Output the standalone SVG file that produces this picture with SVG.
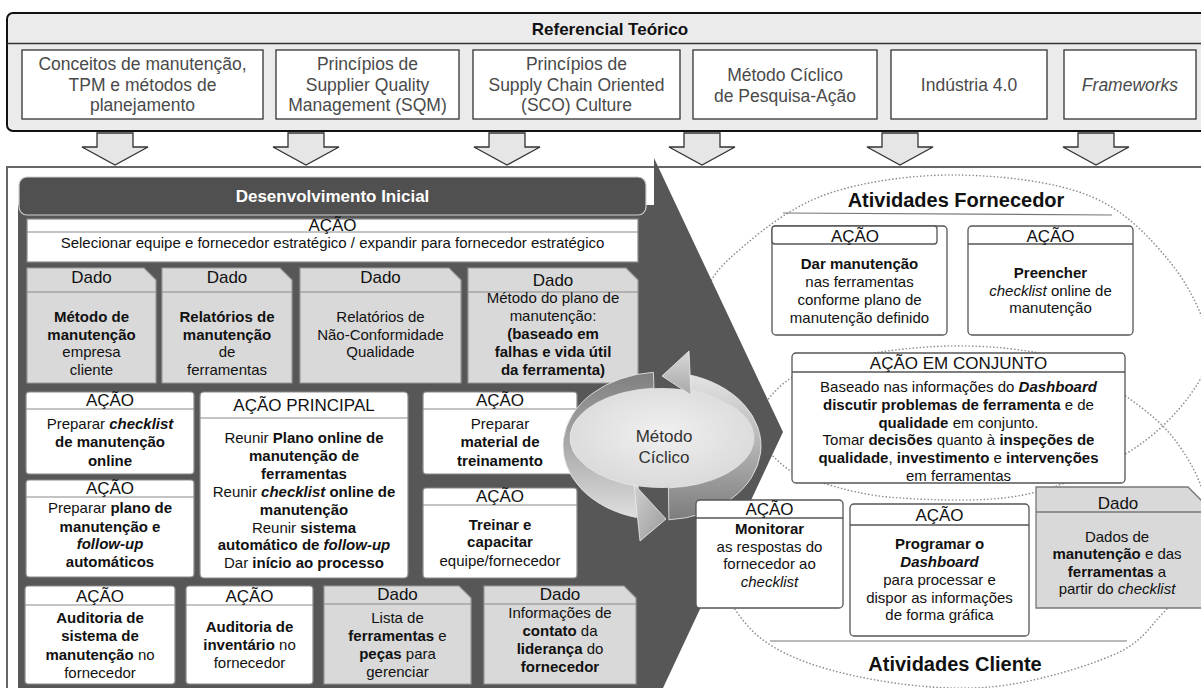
<svg xmlns="http://www.w3.org/2000/svg" width="1201" height="688" viewBox="0 0 1201 688">
<defs>
<style>
text{font-family:"Liberation Sans",Arial,Helvetica,sans-serif;text-anchor:middle;fill:#111;font-size:15px}
.hd{font-size:17px}
.tp{font-size:17.5px;fill:#4a4a4a}
.b{font-weight:bold}
.i{font-style:italic}
.bi{font-weight:bold;font-style:italic}
.wh{fill:#fff}
.wb{fill:#fff;stroke:#8a8a8a;stroke-width:1.2}
.hl{stroke:#8a8a8a;stroke-width:1.2;fill:none}
.db{fill:#d9d9d9;stroke:#9a9a9a;stroke-width:1.2}
.rb{fill:#fff;stroke:#555;stroke-width:1.3}
.rl{stroke:#555;stroke-width:1.3;fill:none}
.rd{fill:#d9d9d9;stroke:#777;stroke-width:1.3}
.tb{fill:#fff;stroke:#333;stroke-width:1.3}
.dot{fill:none;stroke:#8c8c8c;stroke-width:1.6;stroke-dasharray:0.1 3.4;stroke-linecap:round}
.arr{fill:#e6e6e6;stroke:#333;stroke-width:1.3}
</style>
<path id="dn" d="M-18,0 H18 V14 H33 L0,32 L-33,14 H-18 Z"/>
<linearGradient id="gUp" x1="0" y1="0" x2="0" y2="1">
<stop offset="0" stop-color="#e4e4e4"/><stop offset="0.45" stop-color="#b8b8b8"/><stop offset="1" stop-color="#7c7c7c"/>
</linearGradient>
<linearGradient id="gLo" x1="0" y1="0" x2="0" y2="1">
<stop offset="0" stop-color="#7f7f7f"/><stop offset="0.5" stop-color="#a9a9a9"/><stop offset="1" stop-color="#dedede"/>
</linearGradient>
<linearGradient id="gHead1" x1="0" y1="0" x2="0" y2="1">
<stop offset="0" stop-color="#d8d8d8"/><stop offset="1" stop-color="#a8a8a8"/>
</linearGradient>
<linearGradient id="gHead2" x1="0" y1="0" x2="1" y2="1">
<stop offset="0" stop-color="#d0d0d0"/><stop offset="1" stop-color="#9a9a9a"/>
</linearGradient>
<radialGradient id="gIn" cx="0.5" cy="0.45" r="0.6">
<stop offset="0" stop-color="#f0f0f0"/><stop offset="1" stop-color="#d8d8d8"/>
</radialGradient>
</defs>

<!-- Referencial teórico -->
<g id="referencial">
<rect x="7" y="13" width="1205" height="118" rx="6" fill="#ebebeb" stroke="#111" stroke-width="2"/>
<line x1="7" y1="43.5" x2="1201" y2="43.5" stroke="#333" stroke-width="1.5"/>
<text x="610" y="35" class="hd b">Referencial Teórico</text>
</g>
<g id="ref-conceitos">
<rect x="22" y="50" width="241" height="69" class="tb"/>
<text x="142.5" y="70" class="tp">Conceitos de manutenção,</text>
<text x="142.5" y="91" class="tp">TPM e métodos de</text>
<text x="142.5" y="111" class="tp">planejamento</text>
</g>
<g id="ref-sqm">
<rect x="276" y="50" width="183" height="69" class="tb"/>
<text x="367.5" y="70" class="tp">Princípios de</text>
<text x="367.5" y="91" class="tp">Supplier Quality</text>
<text x="367.5" y="111" class="tp">Management (SQM)</text>
</g>
<g id="ref-sco">
<rect x="473" y="50" width="207" height="69" class="tb"/>
<text x="576.5" y="70" class="tp">Princípios de</text>
<text x="576.5" y="91" class="tp">Supply Chain Oriented</text>
<text x="576.5" y="111" class="tp">(SCO) Culture</text>
</g>
<g id="ref-ciclico">
<rect x="693" y="50" width="184" height="69" class="tb"/>
<text x="785" y="81" class="tp">Método Cíclico</text>
<text x="785" y="102" class="tp">de Pesquisa-Ação</text>
</g>
<g id="ref-industria">
<rect x="891" y="50" width="156" height="69" class="tb"/>
<text x="969" y="91" class="tp">Indústria 4.0</text>
</g>
<g id="ref-frameworks">
<rect x="1064" y="50" width="132" height="69" class="tb"/>
<text x="1130" y="91" class="tp i">Frameworks</text>
</g>

<!-- connectors: down arrows -->
<g id="connectors">
<use href="#dn" x="115" y="133" class="arr"/>
<use href="#dn" x="306" y="133" class="arr"/>
<use href="#dn" x="507" y="133" class="arr"/>
<use href="#dn" x="702" y="133" class="arr"/>
<use href="#dn" x="900" y="133" class="arr"/>
<use href="#dn" x="1096" y="133" class="arr"/>
</g>

<!-- main panel -->
<g id="panel">
<rect x="7" y="167" width="1210" height="535" fill="#fff" stroke="#666" stroke-width="2"/>
</g>

<!-- dotted activity areas -->
<g id="area-fornecedor">
<path class="dot" d="M705,300 C708.3,275.8 724.2,262.8 745,245 C765.8,227.2 794.7,204.7 830,193 C865.3,181.3 913.7,174.5 957,175 C1000.3,175.5 1054.5,181.5 1090,196 C1125.5,210.5 1150.3,238 1170,262 C1189.7,286 1204.7,317.8 1208,340 C1211.3,362.2 1203.5,376.2 1190,395 C1176.5,413.8 1154.8,436.3 1127,453 C1099.2,469.7 1060.8,487.5 1023,495 C985.2,502.5 933.3,500 900,498 C866.7,496 843.5,489.3 823,483 C802.5,476.7 793.3,475.5 777,460 C760.7,444.5 737,416.7 725,390 C713,363.3 701.7,324.2 705,300 Z"/>
<line x1="783" y1="213" x2="1112" y2="215" stroke="#777" stroke-width="1.2"/>
<text x="956" y="207" class="b" style="font-size:20px">Atividades Fornecedor</text>
</g>
<g id="area-cliente">
<path class="dot" d="M740,470 C748.7,449.5 755,415 770,397 C785,379 800,370.5 830,362 C860,353.5 911.7,346.7 950,346 C988.3,345.3 1030.5,349.5 1060,358 C1089.5,366.5 1107.8,383.3 1127,397 C1146.2,410.7 1162,422.8 1175,440 C1188,457.2 1200.8,479.2 1205,500 C1209.2,520.8 1207,546.2 1200,565 C1193,583.8 1177.5,598 1163,613 C1148.5,628 1141.8,642.7 1113,655 C1084.2,667.3 1032.2,683.3 990,687 C947.8,690.7 897.8,684.8 860,677 C822.2,669.2 787.2,657.8 763,640 C738.8,622.2 722.5,590 715,570 C707.5,550 713.8,536.7 718,520 C722.2,503.3 731.3,490.5 740,470 Z"/>
<line x1="770" y1="641" x2="1127" y2="641" stroke="#777" stroke-width="1.2"/>
<text x="955" y="671" class="b" style="font-size:20px">Atividades Cliente</text>
</g>

<!-- dark initial development area -->
<g id="desenvolvimento-inicial">
<path d="M18,205 H654 V158 L783,432 L663,688 H18 Z" fill="#575757"/>
<rect x="19" y="177" width="627" height="38" rx="8" fill="#505050" stroke="#d0d0d0" stroke-width="1.2"/>
<text x="332.5" y="202" class="hd b wh" style="fill:#fff">Desenvolvimento Inicial</text>
</g>

<g id="acao-selecionar">
<rect x="27" y="219" width="611" height="43" class="wb"/>
<line x1="27" y1="232" x2="638" y2="232" class="hl"/>
<text x="332.5" y="231" class="hd">AÇÃO</text>
<text x="332.5" y="248">Selecionar equipe e fornecedor estratégico / expandir para fornecedor estratégico</text>
</g>

<g id="dado-metodo">
<path d="M27,268 H144 L156,280 V383 H27 Z" class="db"/>
<line x1="27" y1="292" x2="156" y2="292" class="hl"/>
<text x="91.5" y="283" class="hd">Dado</text>
<text x="91.5" y="322" class="b">Método de</text>
<text x="91.5" y="340" class="b">manutenção</text>
<text x="91.5" y="357">empresa</text>
<text x="91.5" y="375">cliente</text>
</g>
<g id="dado-relatorios">
<path d="M162,268 H280 L292,280 V383 H162 Z" class="db"/>
<line x1="162" y1="292" x2="292" y2="292" class="hl"/>
<text x="227" y="283" class="hd">Dado</text>
<text x="227" y="322" class="b">Relatórios de</text>
<text x="227" y="340" class="b">manutenção</text>
<text x="227" y="357">de</text>
<text x="227" y="375">ferramentas</text>
</g>
<g id="dado-nao-conformidade">
<path d="M300,268 H449 L461,280 V383 H300 Z" class="db"/>
<line x1="300" y1="292" x2="461" y2="292" class="hl"/>
<text x="380.5" y="283" class="hd">Dado</text>
<text x="380.5" y="322">Relatórios de</text>
<text x="380.5" y="340">Não-Conformidade</text>
<text x="380.5" y="357">Qualidade</text>
</g>
<g id="dado-plano">
<path d="M468,268 H626 L638,280 V383 H468 Z" class="db"/>
<line x1="468" y1="292" x2="638" y2="292" class="hl"/>
<text x="553" y="286" class="hd">Dado</text>
<text x="553" y="303">Método do plano de</text>
<text x="553" y="321">manutenção:</text>
<text x="553" y="339" class="b">(baseado em</text>
<text x="553" y="357" class="b">falhas e vida útil</text>
<text x="553" y="375" class="b">da ferramenta)</text>
</g>

<g id="acao-checklist">
<rect x="26" y="392" width="168" height="82" rx="3" class="wb"/>
<line x1="26" y1="409" x2="194" y2="409" class="hl"/>
<text x="110" y="406" class="hd">AÇÃO</text>
<text x="110" y="429">Preparar <tspan class="bi">checklist</tspan></text>
<text x="110" y="447" class="b">de manutenção</text>
<text x="110" y="466" class="b">online</text>
</g>
<g id="acao-plano">
<rect x="26" y="480" width="168" height="97" rx="3" class="wb"/>
<line x1="26" y1="497" x2="194" y2="497" class="hl"/>
<text x="110" y="494" class="hd">AÇÃO</text>
<text x="110" y="513">Preparar <tspan class="b">plano de</tspan></text>
<text x="110" y="532" class="b">manutenção e</text>
<text x="110" y="549" class="bi">follow-up</text>
<text x="110" y="567" class="b">automáticos</text>
</g>
<g id="acao-principal">
<rect x="200" y="392" width="208" height="186" rx="4" class="wb"/>
<line x1="200" y1="418" x2="408" y2="418" class="hl"/>
<text x="304" y="411" class="hd">AÇÃO PRINCIPAL</text>
<text x="304" y="443.3">Reunir <tspan class="b">Plano online de</tspan></text>
<text x="304" y="461.2" class="b">manutenção de</text>
<text x="304" y="479" class="b">ferramentas</text>
<text x="304" y="496.9">Reunir <tspan class="bi">checklist</tspan><tspan class="b"> online de</tspan></text>
<text x="304" y="514.7" class="b">manutenção</text>
<text x="304" y="532.6">Reunir <tspan class="b">sistema</tspan></text>
<text x="304" y="550.4"><tspan class="b">automático de </tspan><tspan class="bi">follow-up</tspan></text>
<text x="304" y="568.3">Dar <tspan class="b">início ao processo</tspan></text>
</g>
<g id="acao-material">
<rect x="423" y="392" width="154" height="82" rx="3" class="wb"/>
<line x1="423" y1="409" x2="577" y2="409" class="hl"/>
<text x="500" y="406" class="hd">AÇÃO</text>
<text x="500" y="429">Preparar</text>
<text x="500" y="447" class="b">material de</text>
<text x="500" y="466" class="b">treinamento</text>
</g>
<g id="acao-treinar">
<rect x="423" y="488" width="154" height="90" rx="3" class="wb"/>
<line x1="423" y1="505" x2="577" y2="505" class="hl"/>
<text x="500" y="502" class="hd">AÇÃO</text>
<text x="500" y="530" class="b">Treinar e</text>
<text x="500" y="547" class="b">capacitar</text>
<text x="500" y="566">equipe/fornecedor</text>
</g>

<g id="acao-auditoria-sistema">
<rect x="25" y="586" width="150" height="98" rx="3" class="wb"/>
<line x1="25" y1="605" x2="175" y2="605" class="hl"/>
<text x="100" y="602" class="hd">AÇÃO</text>
<text x="100" y="623" class="b">Auditoria de</text>
<text x="100" y="641" class="b">sistema de</text>
<text x="100" y="660"><tspan class="b">manutenção</tspan> no</text>
<text x="100" y="678">fornecedor</text>
</g>
<g id="acao-auditoria-inventario">
<rect x="186" y="586" width="127" height="98" rx="3" class="wb"/>
<line x1="186" y1="605" x2="313" y2="605" class="hl"/>
<text x="249.5" y="602" class="hd">AÇÃO</text>
<text x="249.5" y="632" class="b">Auditoria de</text>
<text x="249.5" y="650"><tspan class="b">inventário</tspan> no</text>
<text x="249.5" y="668">fornecedor</text>
</g>
<g id="dado-lista">
<path d="M324,586 H459 L471,598 V684 H324 Z" class="db"/>
<line x1="324" y1="604" x2="471" y2="604" class="hl"/>
<text x="397.5" y="600" class="hd">Dado</text>
<text x="397.5" y="623">Lista de</text>
<text x="397.5" y="641"><tspan class="b">ferramentas</tspan> e</text>
<text x="397.5" y="659"><tspan class="b">peças</tspan> para</text>
<text x="397.5" y="677">gerenciar</text>
</g>
<g id="dado-contato">
<path d="M484,586 H624 L636,598 V684 H484 Z" class="db"/>
<line x1="484" y1="604" x2="636" y2="604" class="hl"/>
<text x="560" y="600" class="hd">Dado</text>
<text x="560" y="618">Informações de</text>
<text x="560" y="636"><tspan class="b">contato</tspan> da</text>
<text x="560" y="654"><tspan class="b">liderança</tspan> do</text>
<text x="560" y="672" class="b">fornecedor</text>
</g>

<!-- cycle -->
<g id="metodo-ciclico">
<ellipse cx="662" cy="438" rx="92" ry="50" fill="url(#gIn)"/>
<path d="M653.4,372.3 A99,74 0 0 0 636.4,517.5 L638.2,486.3 A92,50 0 0 1 654,388.2 Z" fill="url(#gLo)" stroke="#eee" stroke-width="0.8"/>
<path d="M668.9,519.8 A99,74 0 0 0 687.6,374.5 L685.8,389.7 A92,50 0 0 1 668.4,487.9 Z" fill="url(#gUp)" stroke="#eee" stroke-width="0.8"/>
<path d="M689,351 L662,376 L691,395 Z" fill="url(#gHead1)" stroke="#eee" stroke-width="0.8"/>
<path d="M634,484 L666,519 L640,541 Z" fill="url(#gHead2)" stroke="#eee" stroke-width="0.8"/>
<text x="664" y="442" class="hd" style="fill:#333">Método</text>
<text x="664" y="463" class="hd" style="fill:#333">Cíclico</text>
</g>

<!-- supplier activities -->
<g id="acao-dar-manutencao">
<rect x="772" y="226" width="175" height="109" rx="4" class="rb"/>
<rect x="772" y="226" width="165" height="18" rx="3" class="rb"/>
<text x="855" y="242" class="hd">AÇÃO</text>
<text x="859.5" y="269" class="b">Dar manutenção</text>
<text x="859.5" y="287">nas ferramentas</text>
<text x="859.5" y="305">conforme plano de</text>
<text x="859.5" y="323">manutenção definido</text>
</g>
<g id="acao-preencher">
<rect x="968" y="226" width="165" height="109" rx="4" class="rb"/>
<line x1="968" y1="244" x2="1133" y2="244" class="rl"/>
<text x="1050.5" y="242" class="hd">AÇÃO</text>
<text x="1050.5" y="278" class="b">Preencher</text>
<text x="1050.5" y="296"><tspan class="i">checklist</tspan> online de</text>
<text x="1050.5" y="313">manutenção</text>
</g>
<g id="acao-conjunto">
<rect x="792" y="353" width="333" height="130" rx="4" class="rb"/>
<line x1="792" y1="372" x2="1125" y2="372" class="rl"/>
<text x="958.5" y="369" class="hd">AÇÃO EM CONJUNTO</text>
<text x="958.5" y="392">Baseado nas informações do <tspan class="bi">Dashboard</tspan></text>
<text x="958.5" y="410"><tspan class="b">discutir problemas de ferramenta</tspan> e de</text>
<text x="958.5" y="428"><tspan class="b">qualidade</tspan> em conjunto.</text>
<text x="958.5" y="445">Tomar <tspan class="b">decisões</tspan> quanto à <tspan class="b">inspeções de</tspan></text>
<text x="958.5" y="463"><tspan class="b">qualidade</tspan>, <tspan class="b">investimento</tspan> e <tspan class="b">intervenções</tspan></text>
<text x="958.5" y="481">em ferramentas</text>
</g>

<!-- client activities -->
<g id="acao-monitorar">
<rect x="696" y="500" width="147" height="108" rx="4" class="rb"/>
<line x1="696" y1="518" x2="843" y2="518" class="rl"/>
<text x="769.5" y="515" class="hd">AÇÃO</text>
<text x="769.5" y="534" class="b">Monitorar</text>
<text x="769.5" y="552">as respostas do</text>
<text x="769.5" y="569">fornecedor ao</text>
<text x="769.5" y="587" class="i">checklist</text>
</g>
<g id="acao-dashboard">
<rect x="850" y="504" width="179" height="132" rx="4" class="rb"/>
<line x1="850" y1="525" x2="1029" y2="525" class="rl"/>
<text x="939.5" y="521" class="hd">AÇÃO</text>
<text x="939.5" y="549" class="b">Programar o</text>
<text x="939.5" y="567" class="bi">Dashboard</text>
<text x="939.5" y="585">para processar e</text>
<text x="939.5" y="603">dispor as informações</text>
<text x="939.5" y="620">de forma gráfica</text>
</g>
<g id="dado-checklist">
<path d="M1036,487 H1188 L1206,505 V608 H1036 Z" class="rd"/>
<line x1="1036" y1="512" x2="1206" y2="512" class="rl" style="stroke:#777"/>
<text x="1118" y="509" class="hd">Dado</text>
<text x="1117" y="542">Dados de</text>
<text x="1117" y="559"><tspan class="b">manutenção</tspan> e das</text>
<text x="1117" y="577"><tspan class="b">ferramentas</tspan> a</text>
<text x="1117" y="594">partir do <tspan class="i">checklist</tspan></text>
</g>
</svg>
